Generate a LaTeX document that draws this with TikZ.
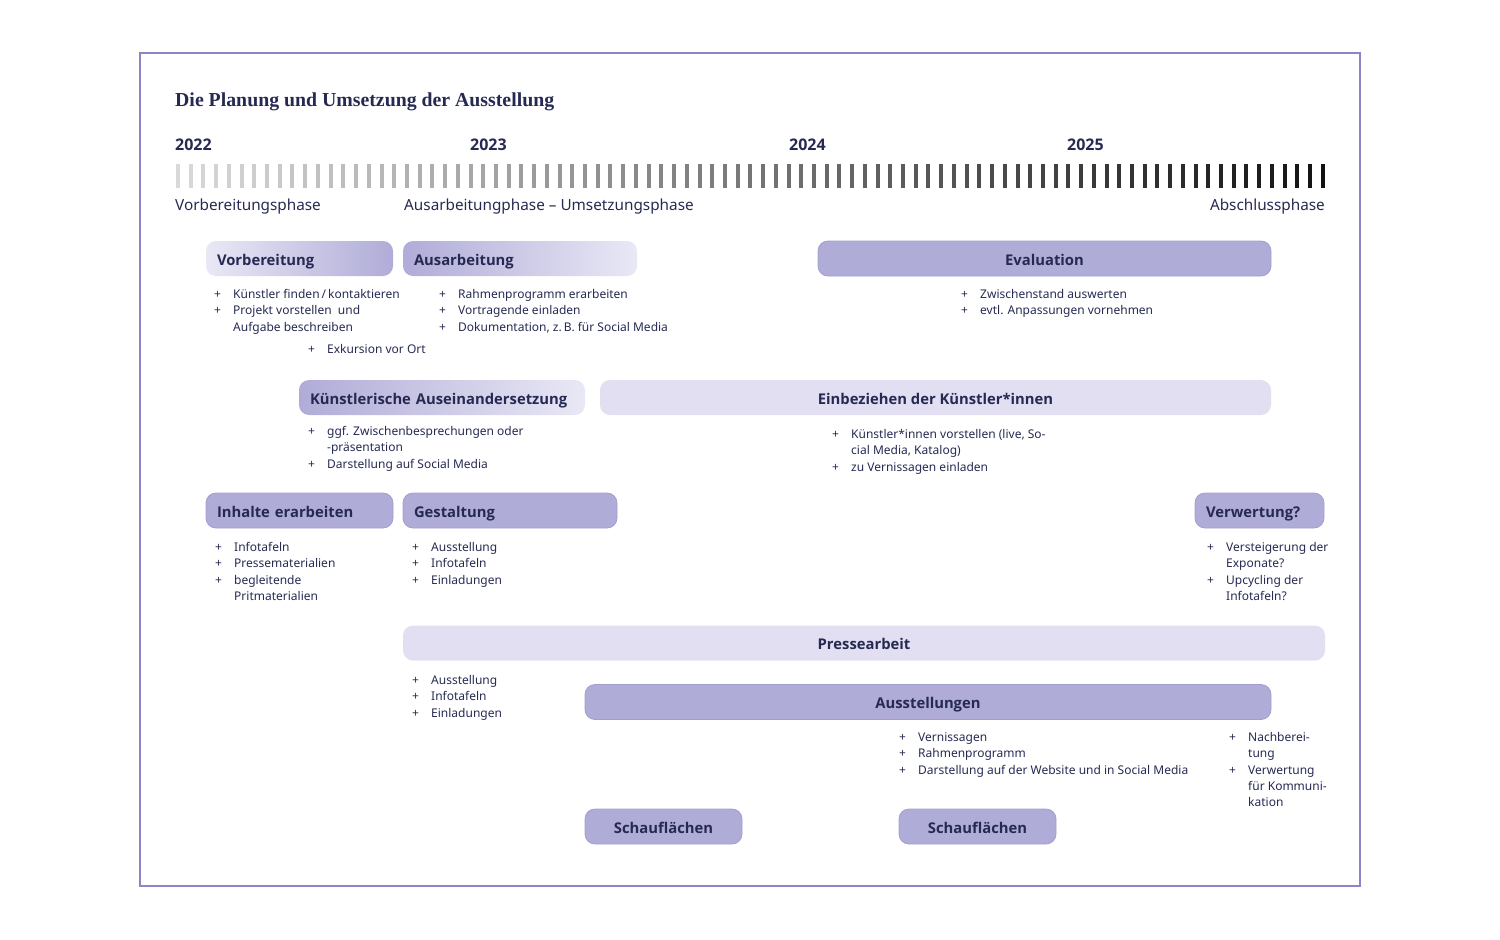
\documentclass[tikz,border=0pt]{standalone}
\usepackage{fontspec}
\setmainfont{Noto Sans}
\newfontfamily\boldsans{Open Sans}
\newfontfamily\titlefont{Liberation Serif}
\definecolor{navy}{HTML}{262A52}
\definecolor{framecol}{HTML}{8C84C4}
\definecolor{boxfill}{HTML}{B0ACD8}
\definecolor{boxdraw}{HTML}{A39ED0}
\definecolor{lightfill}{HTML}{E1DFF1}
\definecolor{fadefill}{HTML}{E9E8F5}
\definecolor{tickstart}{HTML}{D9D9D9}
\definecolor{tickend}{HTML}{111111}
\newcommand\pitem[1]{\par\hangindent=19pt\hangafter=1\noindent\makebox[19pt][l]{+}#1}
\newcommand\plist[1]{\parbox[t]{330pt}{\fontsize{12}{16.3}\selectfont\parindent=0pt #1}}
\begin{document}
\begin{tikzpicture}[x=1pt,y=-1pt,
  every node/.style={text=navy},
  boxbase/.style={rounded corners=10pt, minimum height=35pt, inner ysep=0pt, inner xsep=11pt,
     text height=15pt, text depth=1.5pt,
     font=\boldsans\bfseries\fontsize{14.8}{18}\selectfont},
  boxmed/.style={boxbase, fill=boxfill, draw=boxdraw, line width=0.8pt},
  boxlight/.style={boxbase, fill=lightfill},
  boxfadein/.style={boxbase, left color=fadefill, right color=boxfill},
  boxfadeout/.style={boxbase, left color=boxfill, right color=fadefill},
  listnode/.style={anchor=base west, inner sep=0pt},
  yearlab/.style={anchor=base west, inner sep=0pt, font=\boldsans\bfseries\fontsize{16}{18}\selectfont},
  phaselab/.style={inner sep=0pt, font=\fontsize{15.3}{18}\selectfont}
]
\useasboundingbox (0,0) rectangle (1500,940);
\draw[framecol, line width=1.8pt] (140,53) rectangle (1360,886);

\node[anchor=base west, inner sep=0pt, font=\titlefont\bfseries\fontsize{19.8}{22}\selectfont] (title) at (175,106) {Die Planung und Umsetzung der Ausstellung};

\node[yearlab] (y2022) at (175,150) {2022};
\node[yearlab] (y2023) at (470,150) {2023};
\node[yearlab] (y2024) at (789,150) {2024};
\node[yearlab] (y2025) at (1067,150) {2025};

\foreach \i in {0,...,90} {
  \pgfmathsetmacro\xx{178+\i*12.72}
  \pgfmathtruncatemacro\pp{100*\i/90}
  \fill[tickend!\pp!tickstart] (\xx-2,164) rectangle (\xx+2,188);
}

\node[phaselab, anchor=base west] (p1) at (175,210) {Vorbereitungsphase};
\node[phaselab, anchor=base west] (p2) at (404,210) {Ausarbeitungphase – Umsetzungsphase};
\node[phaselab, anchor=base east] (p3) at (1325,210) {Abschlussphase};

% boxes
\node[boxfadein, text width=165pt, align=left] (vorb) at (299.5,258.5) {Vorbereitung};
\node[boxfadeout, text width=212pt, align=left] (ausa) at (520,258.5) {Ausarbeitung};
\node[boxmed, minimum width=453pt] (eval) at (1044.5,258.5) {Evaluation};
\node[boxfadeout, text width=264pt, align=left] (kuen) at (442,397.5) {Künstlerische Auseinandersetzung};
\node[boxlight, minimum width=671pt] (einb) at (935.5,397.5) {Einbeziehen der Künstler*innen};
\node[boxmed, text width=165pt, align=left] (inha) at (299.5,510.5) {Inhalte erarbeiten};
\node[boxmed, text width=192pt, align=left] (gest) at (510,510.5) {Gestaltung};
\node[boxmed, text width=107pt, align=left] (verw) at (1259.5,510.5) {Verwertung?};
\node[boxlight, minimum width=922pt] (pres) at (864,643) {Pressearbeit};
\node[boxmed, minimum width=686pt] (auss) at (928,702) {Ausstellungen};
\node[boxmed, minimum width=157pt] (scha1) at (663.5,826.5) {Schauflächen};
\node[boxmed, minimum width=157pt] (scha2) at (977.5,826.5) {Schauflächen};

% lists
\node[listnode] (l1) at (214,298.5) {\plist{\pitem{Künstler finden\,/\,kontaktieren}\pitem{Projekt vorstellen\ \ und\\Aufgabe beschreiben}}};
\node[listnode] (l2) at (308,353.5) {\plist{\pitem{Exkursion vor Ort}}};
\node[listnode] (l3) at (439,298.5) {\plist{\pitem{Rahmenprogramm erarbeiten}\pitem{Vortragende einladen}\pitem{Dokumentation, z.\,B. für Social Media}}};
\node[listnode] (l4) at (961,298.5) {\plist{\pitem{Zwischenstand auswerten}\pitem{evtl. Anpassungen vornehmen}}};
\node[listnode] (l5) at (308,435.5) {\plist{\pitem{ggf. Zwischenbesprechungen oder\\-präsentation}\pitem{Darstellung auf Social Media}}};
\node[listnode] (l6) at (832,438.5) {\plist{\pitem{Künstler*innen vorstellen (live, So-\\cial Media, Katalog)}\pitem{zu Vernissagen einladen}}};
\node[listnode] (l7) at (215,551.5) {\plist{\pitem{Infotafeln}\pitem{Pressematerialien}\pitem{begleitende\\Pritmaterialien}}};
\node[listnode] (l8) at (412,551.5) {\plist{\pitem{Ausstellung}\pitem{Infotafeln}\pitem{Einladungen}}};
\node[listnode] (l9) at (1207,551.5) {\plist{\pitem{Versteigerung der\\Exponate?}\pitem{Upcycling der\\Infotafeln?}}};
\node[listnode] (l10) at (412,684.5) {\plist{\pitem{Ausstellung}\pitem{Infotafeln}\pitem{Einladungen}}};
\node[listnode] (l11) at (899,741.5) {\plist{\pitem{Vernissagen}\pitem{Rahmenprogramm}\pitem{Darstellung auf der Website und in Social Media}}};
\node[listnode] (l12) at (1229,741.5) {\plist{\pitem{Nachberei-\\tung}\pitem{Verwertung\\für Kommuni-\\kation}}};
\end{tikzpicture}
\end{document}
